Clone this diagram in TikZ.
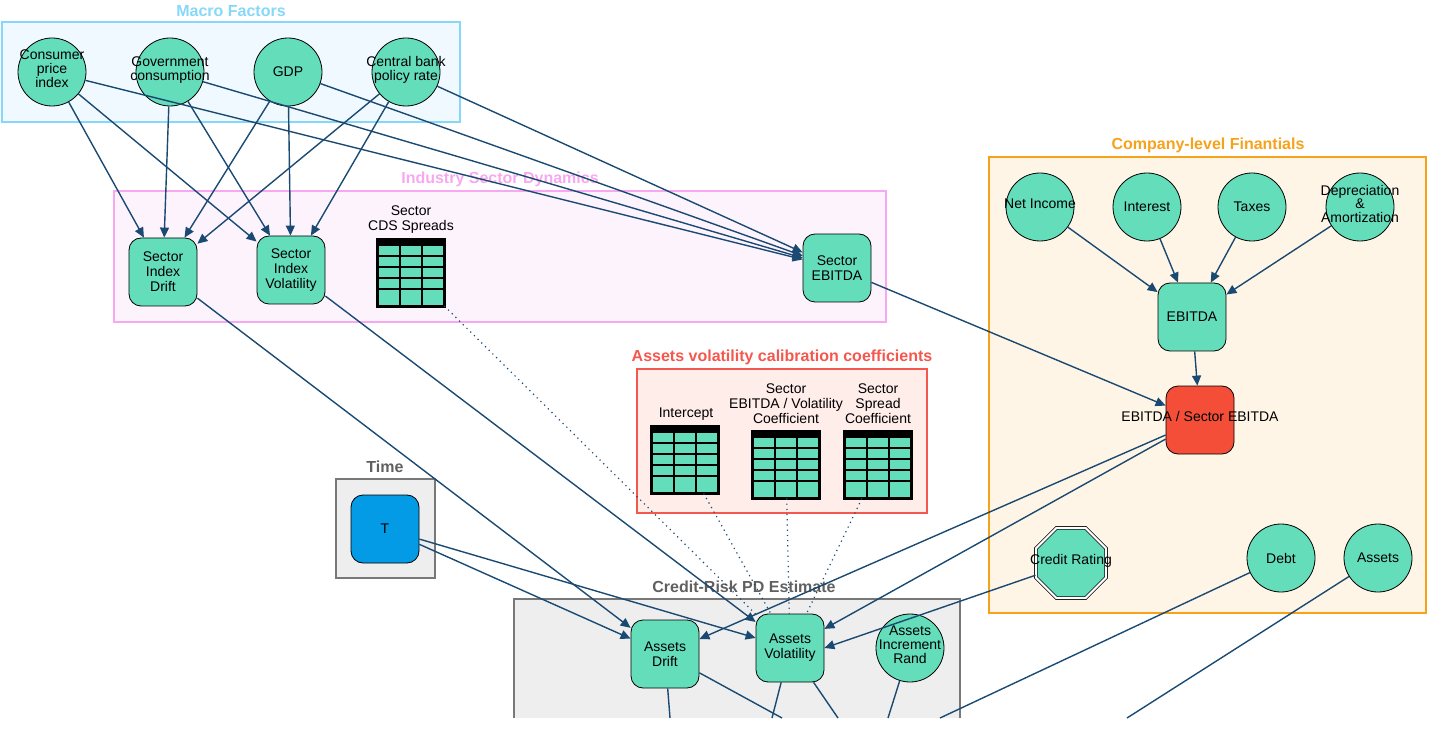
\documentclass[tikz,border=0pt]{standalone}
\usepackage{fontspec}
\setmainfont{Liberation Sans}
\usetikzlibrary{arrows.meta,shapes.geometric,positioning,calc}
\definecolor{mygreen}{RGB}{100,221,187}
\definecolor{myedge}{RGB}{26,74,114}
\definecolor{myblue}{RGB}{3,155,229}
\definecolor{myred}{RGB}{244,78,56}
\definecolor{macroline}{RGB}{135,216,248}
\definecolor{macrofill}{RGB}{240,249,255}
\definecolor{indline}{RGB}{248,168,240}
\definecolor{indfill}{RGB}{253,243,253}
\definecolor{compline}{RGB}{247,162,27}
\definecolor{compfill}{RGB}{254,245,230}
\definecolor{calline}{RGB}{244,87,77}
\definecolor{calfill}{RGB}{255,237,234}
\definecolor{grayline}{RGB}{120,120,120}
\definecolor{grayfill}{RGB}{238,238,238}
% text that does not widen its node
\newcommand\ztext[1]{\raisebox{-2.3pt}{\smash{\makebox[0pt]{\renewcommand\arraystretch{0.85}\setlength\tabcolsep{0pt}\begin{tabular}{c}#1\end{tabular}}}}}
\tikzset{
  vertex/.style={draw,fill=mygreen,circle,minimum size=34pt,inner sep=0pt,align=center,font=\fontsize{7}{7.5}\selectfont},
  rvertex/.style={draw,fill=mygreen,rounded corners=6pt,minimum size=34pt,inner sep=0pt,align=center,font=\fontsize{7}{7.5}\selectfont},
  group/.style={draw,line width=0.6pt},
  gtitle/.style={font=\bfseries\fontsize{8}{9}\selectfont},
  lbl/.style={align=center,font=\fontsize{7}{7.5}\selectfont},
  tbl/.style={draw,fill=mygreen,minimum size=33pt,inner sep=0pt},
  link/.style={draw=myedge,line width=0.7pt,-{Triangle[length=5pt,width=4.5pt]}},
  dlink/.style={draw=myedge,line width=0.6pt,dotted},
}
\newcommand\datatable[2]{%
  \node[tbl] (#1) at (#2) {};
  \fill ($(#1.north west)$) rectangle ($(#1.north east)+(0,6)$);
  \foreach \r in {1,...,4}
    \draw[line width=1pt] ($(#1.north west)+(0,6+\r*10.8)$) -- ($(#1.north east)+(0,6+\r*10.8)$);
  \foreach \c in {22,44}
    \draw[line width=1pt] ($(#1.north west)+(\c,0)$) -- ($(#1.south west)+(\c,0)$);
  \draw[line width=1.2pt] (#1.south west) rectangle (#1.north east);
}
\begin{document}
\begin{tikzpicture}[x=0.5pt,y=-0.5pt]
\useasboundingbox (0,0) rectangle (1430,754);
% groups
\draw[group,draw=macroline,fill=macrofill] (2,22) rectangle (460,122);
\node[gtitle,text=macroline] at (231,11) {Macro Factors};
\draw[group,draw=indline,fill=indfill] (114,191) rectangle (886,322);
\node[gtitle,text=indline] at (500,179) {Industry Sector Dynamics};
\draw[group,draw=compline,fill=compfill] (989,157) rectangle (1426,613);
\node[gtitle,text=compline] at (1208,145) {Company-level Finantials};
\draw[group,draw=calline,fill=calfill] (637,369) rectangle (927,513);
\node[gtitle,text=calline] at (782,357) {Assets volatility calibration coefficients};
\draw[group,draw=grayline,fill=grayfill] (336,479) rectangle (435,578);
\node[gtitle,text=grayline!80!black] at (385,467) {Time};
\draw[group,draw=grayline,fill=grayfill] (514,718) -- (514,599) -- (960,599) -- (960,718);
\node[gtitle,text=grayline!80!black] at (744,587) {Credit-Risk PD Estimate};
% macro factors
\node[vertex] (cpi) at (52,72) {\ztext{Consumer\\price\\index}};
\node[vertex] (gov) at (170,72) {\ztext{Government\\consumption}};
\node[vertex] (gdp) at (288,72) {GDP};
\node[vertex] (cbr) at (406,72) {\ztext{Central bank\\policy rate}};
% sector
\node[rvertex] (sdrift) at (163,272) {Sector\\Index\\Drift};
\node[rvertex] (svol) at (291,270) {Sector\\Index\\Volatility};
\datatable{cds}{411,273}
\node[lbl] at (411,220) {Sector\\CDS Spreads};
\node[rvertex] (sebitda) at (837,268) {Sector\\EBITDA};
% company
\node[vertex] (ni) at (1040,207) {\ztext{Net Income}};
\node[vertex] (int) at (1147,207) {Interest};
\node[vertex] (tax) at (1252,207) {Taxes};
\node[vertex] (da) at (1360,207) {\ztext{Depreciation\\\&\\Amortization}};
\node[rvertex] (ebitda) at (1192,317) {EBITDA};
\node[rvertex,fill=myred] (ratio) at (1200,420) {\ztext{EBITDA / Sector EBITDA}};
\node[draw,fill=mygreen,regular polygon,regular polygon sides=8,minimum size=38pt,inner sep=0pt,double,double distance=1pt,font=\fontsize{7}{7.5}\selectfont] (rating) at (1071,563) {\ztext{Credit Rating}};
\node[vertex] (debt) at (1281,558) {Debt};
\node[vertex] (assets) at (1378,558) {Assets};
% calibration
\datatable{icpt}{685,460}
\node[lbl] at (686,414) {Intercept};
\datatable{ecoef}{786,465}
\node[lbl] at (786,404) {Sector\\EBITDA / Volatility\\Coefficient};
\datatable{scoef}{878,465}
\node[lbl] at (878,404) {Sector\\Spread\\Coefficient};
% time and estimate
\node[rvertex,fill=myblue] (t) at (385,529) {T};
\node[rvertex] (adrift) at (665,654) {Assets\\Drift};
\node[rvertex] (avol) at (790,648) {Assets\\Volatility};
\node[vertex] (arand) at (910,648) {\ztext{Assets\\Increment\\Rand}};
\coordinate (e1) at (670,718);
\coordinate (e2) at (782,718);
\coordinate (e3) at (772,718);
\coordinate (e4) at (838,718);
\coordinate (e5) at (888,718);
\coordinate (e6) at (940,718);
\coordinate (e7) at (1127,718);
% edges
\foreach \s in {cpi,gov,gdp,cbr}
  \foreach \d in {sdrift,svol,sebitda}
    \draw[link] (\s) -- (\d);
\foreach \s in {ni,int,tax,da}
  \draw[link] (\s) -- (ebitda);
\draw[link] (ebitda) -- (ratio);
\draw[link] (sebitda) -- (ratio);
\draw[link] (sdrift) -- (adrift);
\draw[link] (svol) -- (avol);
\draw[link] (t) -- (adrift);
\draw[link] (t) -- (avol);
\draw[link] (ratio) -- (adrift);
\draw[link] (ratio) -- (avol);
\draw[link] (rating) -- (avol.east);
\draw[dlink] (cds) -- (avol);
\draw[dlink] (icpt) -- (avol);
\draw[dlink] (ecoef) -- (avol);
\draw[dlink] (scoef) -- (avol);
\draw[myedge,line width=0.7pt] (adrift) -- (e1);
\draw[myedge,line width=0.7pt] (adrift) -- (e2);
\draw[myedge,line width=0.7pt] (avol) -- (e3);
\draw[myedge,line width=0.7pt] (avol) -- (e4);
\draw[myedge,line width=0.7pt] (arand) -- (e5);
\draw[myedge,line width=0.7pt] (debt) -- (e6);
\draw[myedge,line width=0.7pt] (assets) -- (e7);
\end{tikzpicture}
\end{document}
